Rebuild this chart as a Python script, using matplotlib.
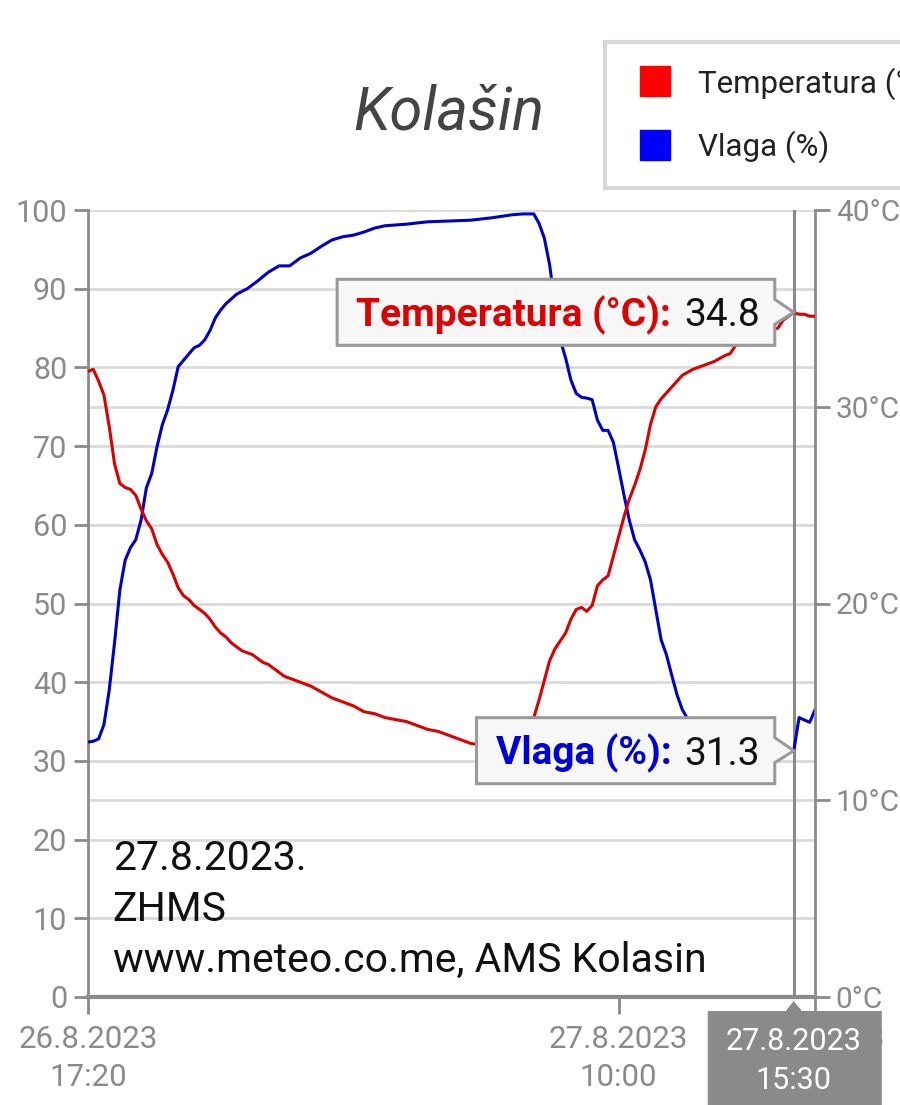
import pandas as pd
import matplotlib
matplotlib.use("Agg")
import matplotlib.pyplot as plt
import matplotlib.dates as mdates
from matplotlib.lines import Line2D
from matplotlib.patches import Polygon
from matplotlib.transforms import IdentityTransform

plt.rcParams['font.family'] = ['Roboto', 'DejaVu Sans']

# data: minutes after 26.8.2023 17:20
START = pd.Timestamp("2023-08-26 17:20")
END_MIN = 1370
CROSS_MIN = 1330  # 15:30

hum_min = [0, 10, 20, 30, 40, 50, 60, 70, 80, 90, 100, 110, 120, 130, 140, 150, 160, 170, 180, 190,
           200, 210, 220, 230, 240, 250, 260, 280, 300, 320, 340, 360, 380, 400, 420, 440, 460, 480,
           500, 520, 540, 560, 600, 640, 680, 720, 760, 780, 800, 820, 840, 850, 860, 870, 880, 890,
           900, 910, 920, 930, 940, 950, 960, 970, 980, 990, 1000, 1010, 1020, 1030, 1040, 1050, 1060,
           1070, 1080, 1090, 1100, 1110, 1120, 1140, 1160, 1180, 1200, 1220, 1240, 1260, 1280, 1290,
           1300, 1310, 1320, 1330, 1340, 1350, 1360, 1370]
hum = [32.4, 32.5, 32.8, 34.6, 39.0, 45.0, 51.7, 55.5, 57.1, 58.1, 60.6, 64.7, 66.5, 69.9, 72.7, 74.6,
       77.1, 80.1, 80.9, 81.7, 82.5, 82.8, 83.5, 84.7, 86.3, 87.3, 88.1, 89.3, 90.0, 91.0, 92.1, 92.9,
       92.9, 93.9, 94.5, 95.4, 96.2, 96.6, 96.8, 97.2, 97.7, 98.0, 98.2, 98.5, 98.6, 98.7, 99.0, 99.2,
       99.4, 99.5, 99.5, 98.3, 96.4, 93.0, 87.9, 83.5, 81.2, 78.4, 76.7, 76.2, 76.1, 75.9, 73.3, 72.0,
       72.0, 70.5, 67.2, 63.8, 60.6, 58.1, 56.8, 55.3, 53.0, 49.2, 45.4, 43.5, 40.9, 38.4, 36.5, 34.2,
       32.9, 32.1, 31.6, 31.1, 30.9, 30.6, 30.4, 30.1, 30.1, 30.6, 31.0, 31.3, 35.5, 35.2, 34.9, 36.5]

temp_min = [0, 10, 20, 30, 40, 50, 60, 70, 80, 90, 100, 110, 120, 130, 140, 150, 160, 170, 180, 190,
            200, 210, 220, 230, 240, 250, 260, 270, 280, 290, 300, 310, 320, 330, 340, 350, 360, 370,
            380, 390, 400, 420, 440, 460, 480, 500, 520, 540, 560, 580, 600, 620, 640, 660, 680, 700,
            720, 740, 760, 780, 800, 810, 820, 830, 840, 850, 860, 870, 880, 890, 900, 910, 920, 930,
            940, 950, 960, 970, 980, 990, 1000, 1010, 1020, 1030, 1040, 1050, 1060, 1070, 1080, 1090,
            1100, 1110, 1120, 1140, 1160, 1180, 1200, 1210, 1220, 1240, 1260, 1280, 1290, 1300, 1310,
            1320, 1330, 1340, 1350, 1360, 1370]
temp = [31.8, 31.9, 31.3, 30.6, 29.0, 27.1, 26.1, 25.9, 25.8, 25.5, 24.8, 24.2, 23.8, 23.0, 22.5,
        22.1, 21.5, 20.8, 20.4, 20.2, 19.9, 19.7, 19.5, 19.2, 18.8, 18.5, 18.3, 18.0, 17.8, 17.6, 17.5,
        17.4, 17.2, 17.0, 16.9, 16.7, 16.5, 16.3, 16.2, 16.1, 16.0, 15.8, 15.5, 15.2, 15.0, 14.8, 14.5,
        14.4, 14.2, 14.1, 14.0, 13.8, 13.6, 13.5, 13.3, 13.1, 12.9, 12.8, 12.7, 12.6, 12.5, 12.5, 12.8,
        13.6, 14.2, 15.1, 16.1, 17.1, 17.7, 18.1, 18.5, 19.2, 19.7, 19.8, 19.6, 19.9, 20.9, 21.2, 21.4,
        22.4, 23.4, 24.4, 25.3, 26.0, 26.8, 27.8, 29.1, 30.0, 30.4, 30.7, 31.0, 31.3, 31.6, 31.9, 32.1,
        32.3, 32.6, 32.7, 33.1, 33.4, 33.6, 33.8, 33.9, 34.0, 34.4, 34.6, 34.8, 34.7, 34.7, 34.6, 34.6]

hum_ticks = [0, 10, 20, 30, 40, 50, 60, 70, 80, 90, 100]
temp_ticks = [0, 10, 20, 30, 40]
x_tick_min = [0, 1000, END_MIN]
notes = ["27.8.2023.", "ZHMS", "www.meteo.co.me, AMS Kolasin"]
title = "Kolašin"
hum_name = "Vlaga (%)"
temp_name = "Temperatura (°C)"

GRAY = "#8a8a8a"
GRID = "#dadada"
RED = "#dd0000"
BLUE = "#0000cc"
W, H = 900, 1105


def to_time(mins):
    return START + pd.to_timedelta(mins, unit="min")


def date_label(t):
    return f"{t.day}.{t.month}.{t.year}\n{t:%H:%M}"


def main():
    fig = plt.figure(figsize=(W / 100, H / 100), dpi=100)
    ax = fig.add_axes([88 / W, 1 - 997 / H, (815 - 88) / W, (997 - 210) / H])
    ax2 = ax.twinx()

    ax.plot(to_time(hum_min), hum, color=BLUE, lw=2.2, zorder=3)
    ax2.plot(to_time(temp_min), temp, color=RED, lw=2.2, zorder=3)

    ax.set_xlim(to_time(0), to_time(END_MIN))
    ax.set_ylim(0, 100)
    ax2.set_ylim(0, 40)

    ax.set_yticks(hum_ticks)
    ax.set_yticklabels([str(v) for v in hum_ticks])
    ax.set_yticks([v * 100 / 40 for v in temp_ticks], minor=True)
    ax.grid(axis="y", which="both", color=GRID, lw=2, zorder=0)
    ax.set_axisbelow(True)
    ax.tick_params(axis="y", which="major", length=10, width=2, color=GRAY,
                   labelcolor=GRAY, labelsize=22, pad=5)
    ax.tick_params(axis="y", which="minor", length=0)

    ax2.set_yticks(temp_ticks)
    ax2.set_yticklabels([f"{v}°C" for v in temp_ticks])
    ax2.tick_params(axis="y", length=11, width=2, color=GRAY, labelcolor=GRAY,
                    labelsize=21.5, pad=4)

    xt = [to_time(m) for m in x_tick_min]
    ax.set_xticks(xt)
    ax.set_xticklabels([date_label(t) for t in xt], linespacing=1.4)
    ax.tick_params(axis="x", length=12, width=2, color=GRAY, labelcolor=GRAY,
                   labelsize=22.5, pad=8)

    for s in ["top", "right"]:
        ax.spines[s].set_visible(False)
    for s in ["top", "left", "bottom"]:
        ax2.spines[s].set_visible(False)
    ax.spines["left"].set_color(GRAY)
    ax.spines["left"].set_linewidth(2)
    ax.spines["bottom"].set_color(GRAY)
    ax.spines["bottom"].set_linewidth(3)
    ax2.spines["right"].set_color(GRAY)
    ax2.spines["right"].set_linewidth(2)

    cross_t = to_time(CROSS_MIN)
    ax.axvline(cross_t, color=GRAY, lw=2.2, zorder=2)

    ax.text(0.034, (997 - 972) / 787, "\n".join(notes), transform=ax.transAxes, fontsize=29.5,
            va="baseline", ha="left", color="#111111", linespacing=1.38)

    fig.text(0.499, 1 - 130 / H, title, ha="center", va="baseline", fontsize=43,
             style="italic", color="#444444")

    # legend, runs past the right edge like the original
    handles = [Line2D([], [], ls="none", marker="s", ms=22, mfc="#ff0000", mec="#ff0000"),
               Line2D([], [], ls="none", marker="s", ms=22, mfc="#0000ff", mec="#0000ff")]
    leg = fig.legend(handles, [temp_name, hum_name], loc="upper left",
                     bbox_to_anchor=(605 / W, 1 - 42 / H), fontsize=22.5, frameon=True,
                     fancybox=False, borderpad=0.8, labelspacing=0.98, handlelength=1.58,
                     handletextpad=0.6, borderaxespad=0)
    leg.get_frame().set_edgecolor("#cfcfcf")
    leg.get_frame().set_linewidth(3)
    for t in leg.get_texts():
        t.set_color("#222222")

    renderer = fig.canvas.get_renderer()
    xnum = mdates.date2num(cross_t)
    ident = IdentityTransform()

    def tooltip(axis, value, name, color):
        px, py = axis.transData.transform((xnum, value))
        right = px - 19
        em = 28 * 100 / 72
        base = py - 0.36 * em
        val = fig.text(right - 15, base, f"{value:.1f}", transform=ident, ha="right",
                       va="baseline", fontsize=28, color="#111111", zorder=5)
        bb = val.get_window_extent(renderer)
        lab = fig.text(bb.x0 - 13, base, name + ":", transform=ident, ha="right",
                       va="baseline", fontsize=28, fontweight="bold", color=color, zorder=5)
        lb = lab.get_window_extent(renderer)
        left = lb.x0 - 19
        pts = [(left, py - 33), (left, py + 33), (right, py + 33), (right, py + 13),
               (px, py), (right, py - 12), (right, py - 33)]
        fig.add_artist(Polygon(pts, closed=True, transform=ident, fc="#f7f7f7",
                               ec="#9a9a9a", lw=2.2, zorder=4))

    t_val = temp[temp_min.index(CROSS_MIN)]
    h_val = hum[hum_min.index(CROSS_MIN)]
    tooltip(ax2, t_val, temp_name, "#e00000")
    tooltip(ax, h_val, hum_name, "#0000dd")

    # time label under the crosshair
    px, py = ax.transData.transform((xnum, 0))
    tip = py - 4
    top = py - 14
    pts = [(px - 86, 0), (px - 86, top), (px - 8, top), (px, tip), (px + 8, top),
           (px + 88, top), (px + 88, 0)]
    fig.add_artist(Polygon(pts, closed=True, transform=ident, fc="#8a8a8a",
                           ec="none", zorder=4))
    fig.text(px, top / 2 - 3, date_label(cross_t), transform=ident, ha="center",
             va="center", fontsize=22, color="white", linespacing=1.4, zorder=5)

    fig.savefig("out.png", dpi=100)
    plt.close(fig)


if __name__ == '__main__':
    main()
